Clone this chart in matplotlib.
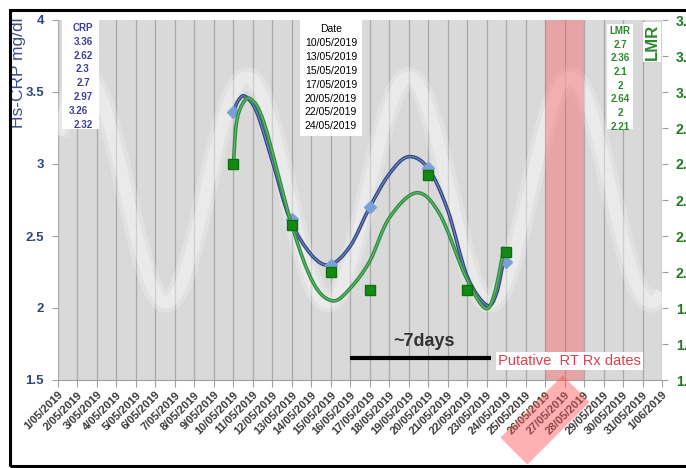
import numpy as np
import matplotlib
matplotlib.use("Agg")
import matplotlib.pyplot as plt
from matplotlib.path import Path
from matplotlib.patches import PathPatch, Polygon, Rectangle

plt.rcParams['font.family'] = ['Liberation Sans', 'DejaVu Sans']

# ---------------- data ----------------
date_labels = ["1/05/2019", "2/05/2019", "3/05/2019", "4/05/2019", "5/05/2019",
               "6/05/2019", "7/05/2019", "8/05/2019", "9/05/2019", "10/05/2019",
               "11/05/2019", "12/05/2019", "13/05/2019", "14/05/2019", "15/05/2019",
               "16/05/2019", "17/05/2019", "18/05/2019", "19/05/2019", "20/05/2019",
               "21/05/2019", "22/05/2019", "23/05/2019", "24/05/2019", "25/05/2019",
               "26/05/2019", "27/05/2019", "28/05/2019", "29/05/2019", "30/05/2019",
               "31/05/2019", "1/06/2019"]

meas_dates = ["10/05/2019", "13/05/2019", "15/05/2019", "17/05/2019",
              "20/05/2019", "22/05/2019", "24/05/2019"]
crp_table = ["3.36", "2.62", "2.3", "2.7", "2.97", "3.26", "2.32"]
lmr_table = ["2.7", "2.36", "2.1", "2", "2.64", "2", "2.21"]
crp_points = [3.36, 2.62, 2.3, 2.7, 2.97, np.nan, 2.32]
lmr_points = [2.7, 2.36, 2.1, 2.0, 2.64, 2.0, 2.21]

# smoothed trend curves (knots, day index / value)
crp_curve_x = [9.0, 9.25, 9.6, 10.2, 11.0, 11.9, 13.0, 13.96, 15.0, 16.0, 17.0,
               17.97, 19.0, 20.0, 21.0, 22.0, 22.5, 22.85]
crp_curve_y = [3.36, 3.44, 3.47, 3.36, 3.02, 2.62, 2.37, 2.30, 2.43, 2.70, 2.93,
               3.05, 2.97, 2.68, 2.22, 2.02, 2.10, 2.32]
lmr_curve_x = [9.0, 9.15, 9.45, 9.9, 10.6, 12.0, 13.1, 14.1, 15.0, 16.0, 17.0,
               18.4, 19.6, 20.9, 21.9, 22.4, 22.9]
lmr_curve_y = [2.69, 2.92, 3.03, 3.06, 2.92, 2.36, 2.04, 1.94, 2.01, 2.16, 2.40,
               2.54, 2.42, 2.08, 1.90, 1.98, 2.24]

left_ticks = [1.5, 2.0, 2.5, 3.0, 3.5, 4.0]
left_tick_labels = ["1.5", "2", "2.5", "3", "3.5", "4"]
right_ticks = [1.5, 1.7, 1.9, 2.1, 2.3, 2.5, 2.7, 2.9, 3.1, 3.3, 3.5]

# decorative background wave (left-axis units)
wave_center, wave_amp, wave_period, wave_peak_day = 2.82, 0.78, 8.3, 9.7

rx_start, rx_end = "26/05/2019", "28/05/2019"
bar_start, bar_end = "16/05/2019", "23/05/2019"

# ---------------- figure ----------------
W, H = 686, 468
fig = plt.figure(figsize=(W / 100, H / 100), dpi=100)
fig.patch.set_facecolor('white')

def fx(x):
    return x / W

def fy(y):
    return 1 - y / H

L, R, T, B = 58, 662, 20, 380
ax = fig.add_axes([fx(L), fy(B), (R - L) / W, (B - T) / H])
ax2 = ax.twinx()

ndays = len(date_labels)
days = np.arange(ndays)
ax.set_xlim(0, ndays - 1)
ax.set_ylim(1.5, 4.0)
ax2.set_ylim(1.5, 3.5)
ax.set_facecolor('#d9d9d9')
ax.set_zorder(1)
ax2.set_zorder(2)
ax2.patch.set_visible(False)

for a in (ax, ax2):
    for s in ('top', 'left', 'right'):
        a.spines[s].set_visible(False)
ax2.spines['bottom'].set_visible(False)
ax.spines['bottom'].set_color('#a0a0a0')

# gridlines / ticks
ax.set_xticks(days)
ax.set_xticklabels(date_labels, rotation=45, ha='right', rotation_mode='anchor',
                   fontsize=8, fontweight='bold', color='#3a3a3a')
ax.tick_params(axis='x', length=5, color='#a0a0a0', pad=2)
ax.grid(axis='x', color='#a8a8a8', lw=0.9, zorder=0)
ax.set_axisbelow(True)

ax.set_yticks(left_ticks)
ax.set_yticklabels(left_tick_labels, fontsize=9.5, fontweight='bold', color='#2f4580')
ax.tick_params(axis='y', length=4, color='#a0a0a0', pad=6)

ax2.set_yticks(right_ticks)
ax2.set_yticklabels([f"{v:.1f}" for v in right_ticks], fontsize=10,
                    fontweight='bold', color='#1f7a1f')
ax2.tick_params(axis='y', length=4, color='#a0a0a0', pad=6)

# background wave
xx = np.linspace(0, ndays - 1, 600)
wave = wave_center + wave_amp * np.cos(2 * np.pi * (xx - wave_peak_day) / wave_period)
ax.plot(xx, wave, color='white', lw=15, alpha=0.22, zorder=1, solid_capstyle='butt')
ax.plot(xx, wave, color='white', lw=9, alpha=0.3, zorder=1, solid_capstyle='butt')

# putative RT band
i0, i1 = date_labels.index(rx_start), date_labels.index(rx_end)
ax.axvspan(i0, i1, color='#ff5050', alpha=0.38, lw=0, zorder=2)

def smooth_path(xs, ys):
    pts = np.column_stack([xs, ys])
    n = len(pts)
    verts = [pts[0]]
    codes = [Path.MOVETO]
    for i in range(n - 1):
        p0 = pts[max(i - 1, 0)]
        p1 = pts[i]
        p2 = pts[i + 1]
        p3 = pts[min(i + 2, n - 1)]
        c1 = p1 + (p2 - p0) / 6.0
        c2 = p2 - (p3 - p1) / 6.0
        verts += [c1, c2, p2]
        codes += [Path.CURVE4] * 3
    return Path(verts, codes)

# curves
ax.add_patch(PathPatch(smooth_path(crp_curve_x, crp_curve_y), fill=False,
                       ec='#2f4580', lw=2.6, zorder=4))
ax.add_patch(PathPatch(smooth_path(crp_curve_x, crp_curve_y), fill=False,
                       ec='#9bb8e8', lw=0.9, alpha=0.55, zorder=4))
ax2.add_patch(PathPatch(smooth_path(lmr_curve_x, lmr_curve_y), fill=False,
                        ec='#2c8a3c', lw=2.6, zorder=4))
ax2.add_patch(PathPatch(smooth_path(lmr_curve_x, lmr_curve_y), fill=False,
                        ec='#8fd89a', lw=0.9, alpha=0.55, zorder=4))

meas_idx = [date_labels.index(d) for d in meas_dates]
ax.plot(meas_idx, crp_points, ls='none', marker='D', ms=6.5, color='#7b9fd9',
        mec='#7b9fd9', zorder=5)
ax2.plot(meas_idx, lmr_points, ls='none', marker='s', ms=6.5, color='#138a13',
         mec='#0d6e0d', zorder=5)

# ~7days bar
b0, b1 = date_labels.index(bar_start), date_labels.index(bar_end)
ax.plot([b0, b1 + 0.2], [1.655, 1.655], color='black', lw=3, zorder=6,
        solid_capstyle='butt')
ax.text((b0 + b1) / 2 + 0.3, 1.77, "~7days", fontsize=13, fontweight='bold',
        color='#333333', ha='center', va='center', zorder=6)
ax.text(22.6, 1.63, "Putative  RT Rx dates", fontsize=10.5, color='#e0404f',
        ha='left', va='center', zorder=6,
        bbox=dict(boxstyle='square,pad=0.15', fc='white', ec='none'))

# text boxes
def box(x0, y0, x1, y1):
    fig.add_artist(Rectangle((fx(x0), fy(y1)), fx(x1) - fx(x0), fy(y0) - fy(y1),
                             transform=fig.transFigure, fc='white', ec='none',
                             zorder=3))

box(62, 18, 99, 129)
lines = ["CRP"] + crp_table
for k, t in enumerate(lines):
    xo = 78 if t == "3.26" else 83
    fig.text(fx(xo), fy(28 + k * 13.8), t, fontsize=7, fontweight='bold',
             color='#3d3d9e', ha='center', va='center', zorder=4)

box(300, 20, 362, 136)
lines = ["Date"] + meas_dates
for k, t in enumerate(lines):
    fig.text(fx(331), fy(29 + k * 13.9), t, fontsize=7.5, color='black',
             ha='center', va='center', zorder=4)

box(607, 24, 633, 129)
lines = ["LMR"] + lmr_table
for k, t in enumerate(lines):
    fig.text(fx(620), fy(31 + k * 13.7), t, fontsize=7, fontweight='bold',
             color='#2a8a2a', ha='center', va='center', zorder=4)

# axis titles
fig.text(fx(19), fy(73), "Hs-CRP mg/dl", rotation=90, fontsize=12.5,
         color='#3b4f8f', ha='center', va='center')
fig.text(fx(652), fy(42), "LMR", rotation=90, fontsize=12, fontweight='bold',
         color='#2a8a2a', ha='center', va='center', zorder=4,
         bbox=dict(boxstyle='square,pad=0.1', fc='white', ec='none'))

# red rotated marker below the axis
cx, cy, hl, hw = 545, 420, 44, 19
d = np.array([-1, 1]) / np.sqrt(2)
p = np.array([1, 1]) / np.sqrt(2)
c = np.array([cx, cy])
corners = [c - d * hl + p * hw, c - d * hl - p * hw, c + d * hl - p * hw, c + d * hl + p * hw]
fig.add_artist(Polygon([(fx(q[0]), fy(q[1])) for q in corners], closed=True,
                       transform=fig.transFigure, fc='#ff5050', ec='none',
                       alpha=0.45, zorder=5))

# outer frame
fig.add_artist(Rectangle((fx(10), fy(466)), fx(700) - fx(10), fy(10) - fy(466),
                         transform=fig.transFigure, fill=False, ec='black',
                         lw=2.2, zorder=10))

fig.savefig("out.png", dpi=100)
